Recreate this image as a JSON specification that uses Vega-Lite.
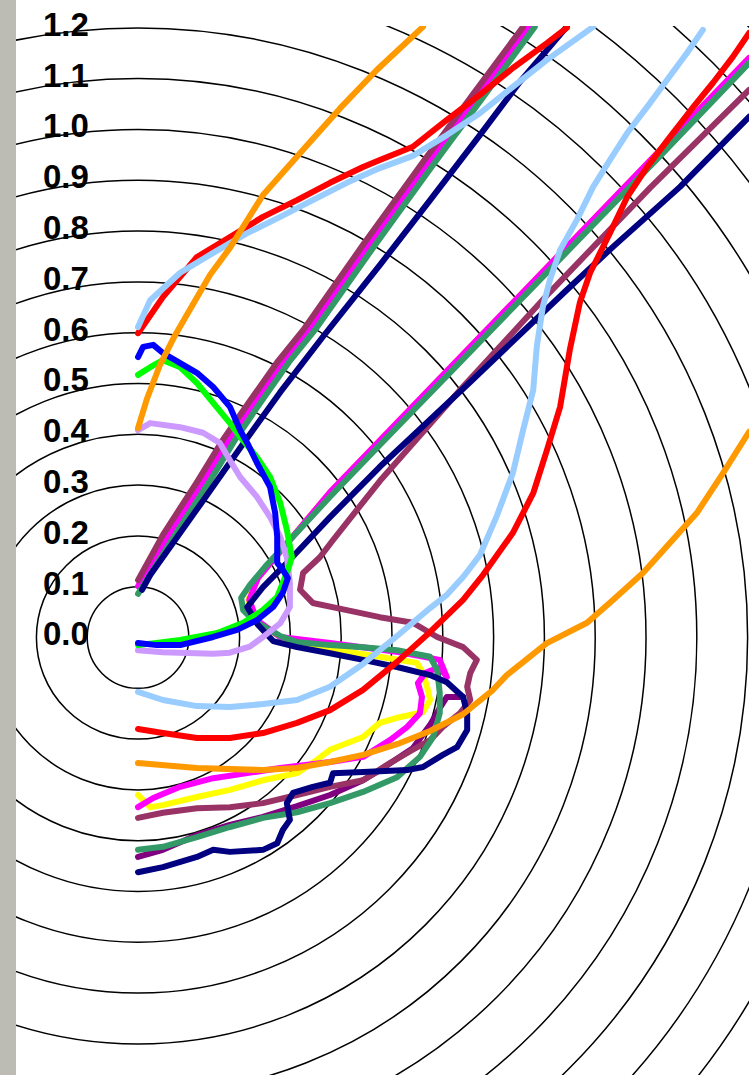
{
"$schema": "https://vega.github.io/schema/vega-lite/v6.json",
"width": 733, "height": 1049,
"autosize": "none",
"padding": {"left": 16, "top": 26, "right": 0, "bottom": 0},
"background": "white",
"config": {"view": {"stroke": null}},
"datasets": {
"strip": [{"x1": -0.29, "x2": -0.2402, "y1": -0.9, "y2": 1.28}],
"rings": [{"r":0.1},{"r":0.2},{"r":0.3},{"r":0.4},{"r":0.5},{"r":0.6},{"r":0.7},{"r":0.8},{"r":0.9},{"r":1.0},{"r":1.1},{"r":1.2},{"r":1.3},{"r":1.4},{"r":1.5},{"r":1.6},{"r":1.7}],
"labels": [{"t":"0.0","v":0},{"t":"0.1","v":0.1},{"t":"0.2","v":0.2},{"t":"0.3","v":0.3},{"t":"0.4","v":0.4},{"t":"0.5","v":0.5},{"t":"0.6","v":0.6},{"t":"0.7","v":0.7},{"t":"0.8","v":0.8},{"t":"0.9","v":0.9},{"t":"1.0","v":1.0},{"t":"1.1","v":1.1},{"t":"1.2","v":1.2}],
"lines": [
{"s":"Y","c":"yellow","x":0,"y":-0.310},{"s":"Y","c":"yellow","x":0.024,"y":-0.334},{"s":"Y","c":"yellow","x":0.049,"y":-0.330},{"s":"Y","c":"yellow","x":0.116,"y":-0.314},{"s":"Y","c":"yellow","x":0.181,"y":-0.300},{"s":"Y","c":"yellow","x":0.246,"y":-0.281},{"s":"Y","c":"yellow","x":0.313,"y":-0.267},{"s":"Y","c":"yellow","x":0.352,"y":-0.241},{"s":"Y","c":"yellow","x":0.378,"y":-0.221},{"s":"Y","c":"yellow","x":0.443,"y":-0.196},{"s":"Y","c":"yellow","x":0.476,"y":-0.168},{"s":"Y","c":"yellow","x":0.510,"y":-0.158},{"s":"Y","c":"yellow","x":0.561,"y":-0.147},{"s":"Y","c":"yellow","x":0.575,"y":-0.123},{"s":"Y","c":"yellow","x":0.569,"y":-0.097},{"s":"Y","c":"yellow","x":0.561,"y":-0.070},{"s":"Y","c":"yellow","x":0.549,"y":-0.050},{"s":"Y","c":"yellow","x":0.476,"y":-0.038},{"s":"Y","c":"yellow","x":0.431,"y":-0.031},{"s":"Y","c":"yellow","x":0.313,"y":-0.015},{"s":"Y","c":"yellow","x":0.280,"y":0.001},{"s":"Y","c":"yellow","x":0.230,"y":0.034},{"s":"Y","c":"yellow","x":0.217,"y":0.074},{"s":"Y","c":"yellow","x":0.236,"y":0.117},{"s":"Y","c":"yellow","x":0.378,"y":0.286},{"s":"Y","c":"yellow","x":1.203,"y":1.141},
{"s":"M","c":"magenta","x":0,"y":-0.334},{"s":"M","c":"magenta","x":0.030,"y":-0.316},{"s":"M","c":"magenta","x":0.083,"y":-0.294},{"s":"M","c":"magenta","x":0.148,"y":-0.277},{"s":"M","c":"magenta","x":0.215,"y":-0.267},{"s":"M","c":"magenta","x":0.280,"y":-0.257},{"s":"M","c":"magenta","x":0.378,"y":-0.245},{"s":"M","c":"magenta","x":0.443,"y":-0.235},{"s":"M","c":"magenta","x":0.496,"y":-0.202},{"s":"M","c":"magenta","x":0.530,"y":-0.176},{"s":"M","c":"magenta","x":0.555,"y":-0.149},{"s":"M","c":"magenta","x":0.559,"y":-0.117},{"s":"M","c":"magenta","x":0.551,"y":-0.090},{"s":"M","c":"magenta","x":0.565,"y":-0.070},{"s":"M","c":"magenta","x":0.594,"y":-0.058},{"s":"M","c":"magenta","x":0.608,"y":-0.078},{"s":"M","c":"magenta","x":0.594,"y":-0.044},{"s":"M","c":"magenta","x":0.516,"y":-0.029},{"s":"M","c":"magenta","x":0.378,"y":-0.011},{"s":"M","c":"magenta","x":0.280,"y":0.001},{"s":"M","c":"magenta","x":0.234,"y":0.034},{"s":"M","c":"magenta","x":0.219,"y":0.074},{"s":"M","c":"magenta","x":0.236,"y":0.117},{"s":"M","c":"magenta","x":0.378,"y":0.286},{"s":"M","c":"magenta","x":1.203,"y":1.141},
{"s":"M1","c":"magenta","x":0,"y":0.101},{"s":"M1","c":"magenta","x":0.061,"y":0.202},{"s":"M1","c":"magenta","x":0.128,"y":0.306},{"s":"M1","c":"magenta","x":0.179,"y":0.389},{"s":"M1","c":"magenta","x":0.226,"y":0.458},{"s":"M1","c":"magenta","x":0.285,"y":0.542},{"s":"M1","c":"magenta","x":0.337,"y":0.605},{"s":"M1","c":"magenta","x":0.455,"y":0.773},{"s":"M1","c":"magenta","x":0.573,"y":0.936},{"s":"M1","c":"magenta","x":0.675,"y":1.074},{"s":"M1","c":"magenta","x":0.770,"y":1.202},
{"s":"PU","c":"purple","x":0,"y":-0.432},{"s":"PU","c":"purple","x":0.049,"y":-0.418},{"s":"PU","c":"purple","x":0.116,"y":-0.389},{"s":"PU","c":"purple","x":0.181,"y":-0.369},{"s":"PU","c":"purple","x":0.246,"y":-0.353},{"s":"PU","c":"purple","x":0.313,"y":-0.332},{"s":"PU","c":"purple","x":0.378,"y":-0.310},{"s":"PU","c":"purple","x":0.443,"y":-0.281},{"s":"PU","c":"purple","x":0.476,"y":-0.261},{"s":"PU","c":"purple","x":0.541,"y":-0.218},{"s":"PU","c":"purple","x":0.575,"y":-0.172},{"s":"PU","c":"purple","x":0.594,"y":-0.139},{"s":"PU","c":"purple","x":0.608,"y":-0.117},{"s":"PU","c":"purple","x":0.640,"y":-0.117},
{"s":"P","c":"plum","x":0,"y":-0.355},{"s":"P","c":"plum","x":0.049,"y":-0.345},{"s":"P","c":"plum","x":0.116,"y":-0.336},{"s":"P","c":"plum","x":0.181,"y":-0.334},{"s":"P","c":"plum","x":0.246,"y":-0.326},{"s":"P","c":"plum","x":0.313,"y":-0.310},{"s":"P","c":"plum","x":0.378,"y":-0.294},{"s":"P","c":"plum","x":0.443,"y":-0.281},{"s":"P","c":"plum","x":0.496,"y":-0.247},{"s":"P","c":"plum","x":0.541,"y":-0.221},{"s":"P","c":"plum","x":0.575,"y":-0.202},{"s":"P","c":"plum","x":0.600,"y":-0.176},{"s":"P","c":"plum","x":0.634,"y":-0.149},{"s":"P","c":"plum","x":0.654,"y":-0.123},{"s":"P","c":"plum","x":0.648,"y":-0.097},{"s":"P","c":"plum","x":0.654,"y":-0.070},{"s":"P","c":"plum","x":0.667,"y":-0.044},{"s":"P","c":"plum","x":0.640,"y":-0.019},{"s":"P","c":"plum","x":0.589,"y":0.001},{"s":"P","c":"plum","x":0.541,"y":0.029},{"s":"P","c":"plum","x":0.476,"y":0.040},{"s":"P","c":"plum","x":0.411,"y":0.054},{"s":"P","c":"plum","x":0.344,"y":0.068},{"s":"P","c":"plum","x":0.319,"y":0.094},{"s":"P","c":"plum","x":0.325,"y":0.127},{"s":"P","c":"plum","x":0.358,"y":0.158},{"s":"P","c":"plum","x":0.384,"y":0.192},{"s":"P","c":"plum","x":0.476,"y":0.308},{"s":"P","c":"plum","x":0.634,"y":0.487},{"s":"P","c":"plum","x":0.811,"y":0.680},{"s":"P","c":"plum","x":1.008,"y":0.885},{"s":"P","c":"plum","x":1.203,"y":1.078},
{"s":"P1","c":"plum","x":0,"y":0.113},{"s":"P1","c":"plum","x":0.049,"y":0.202},{"s":"P1","c":"plum","x":0.116,"y":0.306},{"s":"P1","c":"plum","x":0.167,"y":0.389},{"s":"P1","c":"plum","x":0.215,"y":0.458},{"s":"P1","c":"plum","x":0.274,"y":0.542},{"s":"P1","c":"plum","x":0.325,"y":0.605},{"s":"P1","c":"plum","x":0.443,"y":0.773},{"s":"P1","c":"plum","x":0.561,"y":0.936},{"s":"P1","c":"plum","x":0.663,"y":1.074},{"s":"P1","c":"plum","x":0.758,"y":1.202},
{"s":"SG","c":"seagreen","x":0,"y":-0.418},{"s":"SG","c":"seagreen","x":0.049,"y":-0.412},{"s":"SG","c":"seagreen","x":0.116,"y":-0.393},{"s":"SG","c":"seagreen","x":0.181,"y":-0.373},{"s":"SG","c":"seagreen","x":0.246,"y":-0.355},{"s":"SG","c":"seagreen","x":0.313,"y":-0.344},{"s":"SG","c":"seagreen","x":0.378,"y":-0.326},{"s":"SG","c":"seagreen","x":0.443,"y":-0.304},{"s":"SG","c":"seagreen","x":0.510,"y":-0.275},{"s":"SG","c":"seagreen","x":0.555,"y":-0.235},{"s":"SG","c":"seagreen","x":0.581,"y":-0.196},{"s":"SG","c":"seagreen","x":0.594,"y":-0.149},{"s":"SG","c":"seagreen","x":0.594,"y":-0.109},{"s":"SG","c":"seagreen","x":0.589,"y":-0.064},{"s":"SG","c":"seagreen","x":0.575,"y":-0.038},{"s":"SG","c":"seagreen","x":0.510,"y":-0.025},{"s":"SG","c":"seagreen","x":0.443,"y":-0.019},{"s":"SG","c":"seagreen","x":0.378,"y":-0.015},{"s":"SG","c":"seagreen","x":0.313,"y":-0.009},{"s":"SG","c":"seagreen","x":0.280,"y":0.003},{"s":"SG","c":"seagreen","x":0.260,"y":0.015},{"s":"SG","c":"seagreen","x":0.230,"y":0.031},{"s":"SG","c":"seagreen","x":0.207,"y":0.054},{"s":"SG","c":"seagreen","x":0.203,"y":0.078},{"s":"SG","c":"seagreen","x":0.220,"y":0.103},{"s":"SG","c":"seagreen","x":0.250,"y":0.139},{"s":"SG","c":"seagreen","x":0.299,"y":0.192},{"s":"SG","c":"seagreen","x":0.378,"y":0.277},{"s":"SG","c":"seagreen","x":0.476,"y":0.379},{"s":"SG","c":"seagreen","x":0.608,"y":0.515},{"s":"SG","c":"seagreen","x":0.791,"y":0.704},{"s":"SG","c":"seagreen","x":0.909,"y":0.826},{"s":"SG","c":"seagreen","x":1.028,"y":0.948},{"s":"SG","c":"seagreen","x":1.203,"y":1.131},
{"s":"SG1","c":"seagreen","x":0,"y":0.086},{"s":"SG1","c":"seagreen","x":0.073,"y":0.202},{"s":"SG1","c":"seagreen","x":0.140,"y":0.306},{"s":"SG1","c":"seagreen","x":0.191,"y":0.389},{"s":"SG1","c":"seagreen","x":0.238,"y":0.458},{"s":"SG1","c":"seagreen","x":0.297,"y":0.542},{"s":"SG1","c":"seagreen","x":0.348,"y":0.605},{"s":"SG1","c":"seagreen","x":0.467,"y":0.773},{"s":"SG1","c":"seagreen","x":0.585,"y":0.936},{"s":"SG1","c":"seagreen","x":0.687,"y":1.074},{"s":"SG1","c":"seagreen","x":0.781,"y":1.202},
{"s":"N","c":"navy","x":0,"y":-0.462},{"s":"N","c":"navy","x":0.049,"y":-0.452},{"s":"N","c":"navy","x":0.116,"y":-0.432},{"s":"N","c":"navy","x":0.148,"y":-0.418},{"s":"N","c":"navy","x":0.181,"y":-0.422},{"s":"N","c":"navy","x":0.246,"y":-0.418},{"s":"N","c":"navy","x":0.274,"y":-0.405},{"s":"N","c":"navy","x":0.285,"y":-0.379},{"s":"N","c":"navy","x":0.299,"y":-0.359},{"s":"N","c":"navy","x":0.293,"y":-0.326},{"s":"N","c":"navy","x":0.305,"y":-0.306},{"s":"N","c":"navy","x":0.344,"y":-0.294},{"s":"N","c":"navy","x":0.378,"y":-0.286},{"s":"N","c":"navy","x":0.384,"y":-0.267},{"s":"N","c":"navy","x":0.443,"y":-0.265},{"s":"N","c":"navy","x":0.530,"y":-0.261},{"s":"N","c":"navy","x":0.561,"y":-0.255},{"s":"N","c":"navy","x":0.600,"y":-0.231},{"s":"N","c":"navy","x":0.628,"y":-0.216},{"s":"N","c":"navy","x":0.648,"y":-0.182},{"s":"N","c":"navy","x":0.648,"y":-0.149},{"s":"N","c":"navy","x":0.640,"y":-0.117},{"s":"N","c":"navy","x":0.608,"y":-0.088},{"s":"N","c":"navy","x":0.575,"y":-0.074},{"s":"N","c":"navy","x":0.510,"y":-0.058},{"s":"N","c":"navy","x":0.443,"y":-0.044},{"s":"N","c":"navy","x":0.378,"y":-0.031},{"s":"N","c":"navy","x":0.313,"y":-0.019},{"s":"N","c":"navy","x":0.266,"y":-0.007},{"s":"N","c":"navy","x":0.236,"y":0.025},{"s":"N","c":"navy","x":0.215,"y":0.060},{"s":"N","c":"navy","x":0.246,"y":0.099},{"s":"N","c":"navy","x":0.299,"y":0.153},{"s":"N","c":"navy","x":0.378,"y":0.237},{"s":"N","c":"navy","x":0.476,"y":0.336},{"s":"N","c":"navy","x":0.654,"y":0.503},{"s":"N","c":"navy","x":0.844,"y":0.684},{"s":"N","c":"navy","x":0.935,"y":0.769},{"s":"N","c":"navy","x":1.067,"y":0.887},{"s":"N","c":"navy","x":1.203,"y":1.025},
{"s":"N1","c":"navy","x":0.008,"y":0.094},{"s":"N1","c":"navy","x":0.024,"y":0.123},{"s":"N1","c":"navy","x":0.122,"y":0.261},{"s":"N1","c":"navy","x":0.201,"y":0.373},{"s":"N1","c":"navy","x":0.280,"y":0.483},{"s":"N1","c":"navy","x":0.364,"y":0.592},{"s":"N1","c":"navy","x":0.476,"y":0.733},{"s":"N1","c":"navy","x":0.575,"y":0.861},{"s":"N1","c":"navy","x":0.673,"y":0.989},{"s":"N1","c":"navy","x":0.752,"y":1.094},{"s":"N1","c":"navy","x":0.844,"y":1.202},
{"s":"L","c":"lavender","x":0,"y":0.408},{"s":"L","c":"lavender","x":0.024,"y":0.422},{"s":"L","c":"lavender","x":0.083,"y":0.414},{"s":"L","c":"lavender","x":0.128,"y":0.403},{"s":"L","c":"lavender","x":0.161,"y":0.383},{"s":"L","c":"lavender","x":0.181,"y":0.349},{"s":"L","c":"lavender","x":0.201,"y":0.316},{"s":"L","c":"lavender","x":0.234,"y":0.277},{"s":"L","c":"lavender","x":0.260,"y":0.237},{"s":"L","c":"lavender","x":0.280,"y":0.198},{"s":"L","c":"lavender","x":0.293,"y":0.158},{"s":"L","c":"lavender","x":0.299,"y":0.107},{"s":"L","c":"lavender","x":0.299,"y":0.060},{"s":"L","c":"lavender","x":0.280,"y":0.028},{"s":"L","c":"lavender","x":0.246,"y":0.001},{"s":"L","c":"lavender","x":0.220,"y":-0.018},{"s":"L","c":"lavender","x":0.181,"y":-0.030},{"s":"L","c":"lavender","x":0.148,"y":-0.032},{"s":"L","c":"lavender","x":0.049,"y":-0.029},{"s":"L","c":"lavender","x":0,"y":-0.025},
{"s":"G","c":"green","x":0,"y":0.517},{"s":"G","c":"green","x":0.024,"y":0.532},{"s":"G","c":"green","x":0.049,"y":0.546},{"s":"G","c":"green","x":0.083,"y":0.532},{"s":"G","c":"green","x":0.116,"y":0.501},{"s":"G","c":"green","x":0.148,"y":0.462},{"s":"G","c":"green","x":0.181,"y":0.422},{"s":"G","c":"green","x":0.201,"y":0.395},{"s":"G","c":"green","x":0.234,"y":0.355},{"s":"G","c":"green","x":0.260,"y":0.316},{"s":"G","c":"green","x":0.280,"y":0.265},{"s":"G","c":"green","x":0.293,"y":0.212},{"s":"G","c":"green","x":0.303,"y":0.158},{"s":"G","c":"green","x":0.293,"y":0.127},{"s":"G","c":"green","x":0.274,"y":0.080},{"s":"G","c":"green","x":0.246,"y":0.054},{"s":"G","c":"green","x":0.207,"y":0.029},{"s":"G","c":"green","x":0.156,"y":0.009},{"s":"G","c":"green","x":0.083,"y":-0.005},{"s":"G","c":"green","x":0,"y":-0.015},
{"s":"B","c":"blue","x":0,"y":0.552},{"s":"B","c":"blue","x":0.010,"y":0.572},{"s":"B","c":"blue","x":0.030,"y":0.576},{"s":"B","c":"blue","x":0.049,"y":0.560},{"s":"B","c":"blue","x":0.083,"y":0.540},{"s":"B","c":"blue","x":0.116,"y":0.521},{"s":"B","c":"blue","x":0.148,"y":0.493},{"s":"B","c":"blue","x":0.181,"y":0.454},{"s":"B","c":"blue","x":0.201,"y":0.408},{"s":"B","c":"blue","x":0.215,"y":0.383},{"s":"B","c":"blue","x":0.234,"y":0.344},{"s":"B","c":"blue","x":0.260,"y":0.296},{"s":"B","c":"blue","x":0.270,"y":0.245},{"s":"B","c":"blue","x":0.274,"y":0.198},{"s":"B","c":"blue","x":0.274,"y":0.147},{"s":"B","c":"blue","x":0.285,"y":0.133},{"s":"B","c":"blue","x":0.295,"y":0.117},{"s":"B","c":"blue","x":0.285,"y":0.088},{"s":"B","c":"blue","x":0.266,"y":0.060},{"s":"B","c":"blue","x":0.234,"y":0.034},{"s":"B","c":"blue","x":0.195,"y":0.015},{"s":"B","c":"blue","x":0.148,"y":0.001},{"s":"B","c":"blue","x":0.083,"y":-0.015},{"s":"B","c":"blue","x":0.037,"y":-0.015},{"s":"B","c":"blue","x":0,"y":-0.011},
{"s":"R1","c":"red","x":0,"y":0.599},{"s":"R1","c":"red","x":0.049,"y":0.670},{"s":"R1","c":"red","x":0.116,"y":0.749},{"s":"R1","c":"red","x":0.181,"y":0.788},{"s":"R1","c":"red","x":0.246,"y":0.828},{"s":"R1","c":"red","x":0.313,"y":0.861},{"s":"R1","c":"red","x":0.378,"y":0.895},{"s":"R1","c":"red","x":0.443,"y":0.926},{"s":"R1","c":"red","x":0.476,"y":0.940},{"s":"R1","c":"red","x":0.541,"y":0.966},{"s":"R1","c":"red","x":0.608,"y":1.019},{"s":"R1","c":"red","x":0.673,"y":1.068},{"s":"R1","c":"red","x":0.738,"y":1.121},{"s":"R1","c":"red","x":0.805,"y":1.170},{"s":"R1","c":"red","x":0.844,"y":1.200},
{"s":"R2","c":"red","x":0,"y":-0.180},{"s":"R2","c":"red","x":0.049,"y":-0.188},{"s":"R2","c":"red","x":0.116,"y":-0.198},{"s":"R2","c":"red","x":0.181,"y":-0.198},{"s":"R2","c":"red","x":0.246,"y":-0.188},{"s":"R2","c":"red","x":0.313,"y":-0.168},{"s":"R2","c":"red","x":0.378,"y":-0.143},{"s":"R2","c":"red","x":0.443,"y":-0.103},{"s":"R2","c":"red","x":0.510,"y":-0.048},{"s":"R2","c":"red","x":0.575,"y":0.011},{"s":"R2","c":"red","x":0.640,"y":0.074},{"s":"R2","c":"red","x":0.679,"y":0.123},{"s":"R2","c":"red","x":0.738,"y":0.206},{"s":"R2","c":"red","x":0.778,"y":0.284},{"s":"R2","c":"red","x":0.805,"y":0.369},{"s":"R2","c":"red","x":0.831,"y":0.454},{"s":"R2","c":"red","x":0.850,"y":0.566},{"s":"R2","c":"red","x":0.870,"y":0.660},{"s":"R2","c":"red","x":0.890,"y":0.718},{"s":"R2","c":"red","x":0.929,"y":0.796},{"s":"R2","c":"red","x":0.963,"y":0.867},{"s":"R2","c":"red","x":1.002,"y":0.926},{"s":"R2","c":"red","x":1.047,"y":0.985},{"s":"R2","c":"red","x":1.093,"y":1.044},{"s":"R2","c":"red","x":1.132,"y":1.092},{"s":"R2","c":"red","x":1.171,"y":1.143},{"s":"R2","c":"red","x":1.203,"y":1.190},
{"s":"LB1","c":"lightblue","x":0,"y":0.611},{"s":"LB1","c":"lightblue","x":0.024,"y":0.664},{"s":"LB1","c":"lightblue","x":0.083,"y":0.718},{"s":"LB1","c":"lightblue","x":0.148,"y":0.757},{"s":"LB1","c":"lightblue","x":0.215,"y":0.796},{"s":"LB1","c":"lightblue","x":0.280,"y":0.828},{"s":"LB1","c":"lightblue","x":0.344,"y":0.861},{"s":"LB1","c":"lightblue","x":0.411,"y":0.895},{"s":"LB1","c":"lightblue","x":0.476,"y":0.924},{"s":"LB1","c":"lightblue","x":0.541,"y":0.948},{"s":"LB1","c":"lightblue","x":0.608,"y":0.989},{"s":"LB1","c":"lightblue","x":0.673,"y":1.032},{"s":"LB1","c":"lightblue","x":0.738,"y":1.084},{"s":"LB1","c":"lightblue","x":0.805,"y":1.137},{"s":"LB1","c":"lightblue","x":0.896,"y":1.202},
{"s":"LB2","c":"lightblue","x":0,"y":-0.107},{"s":"LB2","c":"lightblue","x":0.049,"y":-0.123},{"s":"LB2","c":"lightblue","x":0.116,"y":-0.135},{"s":"LB2","c":"lightblue","x":0.181,"y":-0.137},{"s":"LB2","c":"lightblue","x":0.246,"y":-0.131},{"s":"LB2","c":"lightblue","x":0.313,"y":-0.123},{"s":"LB2","c":"lightblue","x":0.378,"y":-0.097},{"s":"LB2","c":"lightblue","x":0.443,"y":-0.052},{"s":"LB2","c":"lightblue","x":0.510,"y":0.003},{"s":"LB2","c":"lightblue","x":0.575,"y":0.058},{"s":"LB2","c":"lightblue","x":0.608,"y":0.084},{"s":"LB2","c":"lightblue","x":0.640,"y":0.119},{"s":"LB2","c":"lightblue","x":0.673,"y":0.162},{"s":"LB2","c":"lightblue","x":0.707,"y":0.241},{"s":"LB2","c":"lightblue","x":0.738,"y":0.324},{"s":"LB2","c":"lightblue","x":0.758,"y":0.408},{"s":"LB2","c":"lightblue","x":0.778,"y":0.487},{"s":"LB2","c":"lightblue","x":0.785,"y":0.572},{"s":"LB2","c":"lightblue","x":0.797,"y":0.651},{"s":"LB2","c":"lightblue","x":0.811,"y":0.704},{"s":"LB2","c":"lightblue","x":0.831,"y":0.763},{"s":"LB2","c":"lightblue","x":0.864,"y":0.822},{"s":"LB2","c":"lightblue","x":0.896,"y":0.887},{"s":"LB2","c":"lightblue","x":0.929,"y":0.940},{"s":"LB2","c":"lightblue","x":0.963,"y":0.993},{"s":"LB2","c":"lightblue","x":1.002,"y":1.044},{"s":"LB2","c":"lightblue","x":1.041,"y":1.097},{"s":"LB2","c":"lightblue","x":1.081,"y":1.151},{"s":"LB2","c":"lightblue","x":1.112,"y":1.196},
{"s":"O1","c":"orange","x":0,"y":0.412},{"s":"O1","c":"orange","x":0.018,"y":0.471},{"s":"O1","c":"orange","x":0.043,"y":0.536},{"s":"O1","c":"orange","x":0.073,"y":0.595},{"s":"O1","c":"orange","x":0.102,"y":0.645},{"s":"O1","c":"orange","x":0.142,"y":0.714},{"s":"O1","c":"orange","x":0.181,"y":0.767},{"s":"O1","c":"orange","x":0.246,"y":0.871},{"s":"O1","c":"orange","x":0.325,"y":0.960},{"s":"O1","c":"orange","x":0.398,"y":1.042},{"s":"O1","c":"orange","x":0.470,"y":1.117},{"s":"O1","c":"orange","x":0.561,"y":1.202},
{"s":"O2","c":"orange","x":0,"y":-0.247},{"s":"O2","c":"orange","x":0.116,"y":-0.257},{"s":"O2","c":"orange","x":0.246,"y":-0.261},{"s":"O2","c":"orange","x":0.313,"y":-0.257},{"s":"O2","c":"orange","x":0.378,"y":-0.245},{"s":"O2","c":"orange","x":0.443,"y":-0.231},{"s":"O2","c":"orange","x":0.510,"y":-0.210},{"s":"O2","c":"orange","x":0.575,"y":-0.184},{"s":"O2","c":"orange","x":0.640,"y":-0.151},{"s":"O2","c":"orange","x":0.667,"y":-0.129},{"s":"O2","c":"orange","x":0.699,"y":-0.103},{"s":"O2","c":"orange","x":0.726,"y":-0.074},{"s":"O2","c":"orange","x":0.805,"y":-0.011},{"s":"O2","c":"orange","x":0.884,"y":0.029},{"s":"O2","c":"orange","x":0.935,"y":0.074},{"s":"O2","c":"orange","x":0.994,"y":0.127},{"s":"O2","c":"orange","x":1.047,"y":0.186},{"s":"O2","c":"orange","x":1.100,"y":0.245},{"s":"O2","c":"orange","x":1.152,"y":0.324},{"s":"O2","c":"orange","x":1.203,"y":0.405}
]
},
"layer": [
{
"data": {"name": "strip"},
"mark": {"type": "rect", "color": "#bdbcb4", "clip": false},
"encoding": {
"x": {"field": "x1", "type": "quantitative", "scale": {"domain": [-0.2402, 1.2028], "nice": false, "zero": false}, "axis": null},
"x2": {"field": "x2"},
"y": {"field": "y1", "type": "quantitative", "scale": {"domain": [-0.8612, 1.2037], "nice": false, "zero": false}, "axis": null},
"y2": {"field": "y2"}
}
},
{
"data": {"name": "rings"},
"mark": {"type": "point", "shape": "circle", "filled": false, "stroke": "black", "strokeWidth": 1.5, "opacity": 1, "clip": true},
"encoding": {
"x": {"datum": 0, "type": "quantitative", "scale": {"domain": [-0.2402, 1.2028], "nice": false, "zero": false}, "axis": null},
"y": {"datum": 0, "type": "quantitative", "scale": {"domain": [-0.8612, 1.2037], "nice": false, "zero": false}, "axis": null},
"size": {"field": "r", "type": "quantitative", "scale": {"type": "pow", "exponent": 2, "domain": [0, 1], "range": [0, 1032256]}, "legend": null}
}
},
{
"data": {"name": "lines"},
"mark": {"type": "line", "strokeWidth": 6, "strokeJoin": "round", "strokeCap": "round", "clip": true},
"encoding": {
"x": {"field": "x", "type": "quantitative", "scale": {"domain": [-0.2402, 1.2028], "nice": false, "zero": false}, "axis": null},
"y": {"field": "y", "type": "quantitative", "scale": {"domain": [-0.8612, 1.2037], "nice": false, "zero": false}, "axis": null},
"detail": {"field": "s", "type": "nominal"},
"color": {"field": "c", "type": "nominal", "legend": null, "scale": {"domain": ["yellow","magenta","purple","plum","seagreen","navy","lavender","green","blue","red","lightblue","orange"], "range": ["#FFFF00","#FF00FF","#800080","#993366","#339966","#000080","#CC99FF","#00FF00","#0000FF","#FF0000","#99CCFF","#FF9900"]}},
"order": {"value": null}
}
},
{
"data": {"name": "labels"},
"mark": {"type": "text", "font": "Liberation Sans", "fontSize": 33, "fontWeight": "bold", "align": "center", "baseline": "middle", "dy": -2, "color": "black"},
"encoding": {
"x": {"datum": -0.142, "type": "quantitative", "scale": {"domain": [-0.2402, 1.2028], "nice": false, "zero": false}, "axis": null},
"y": {"field": "v", "type": "quantitative", "scale": {"domain": [-0.8612, 1.2037], "nice": false, "zero": false}, "axis": null},
"text": {"field": "t"}
}
}
]
}
